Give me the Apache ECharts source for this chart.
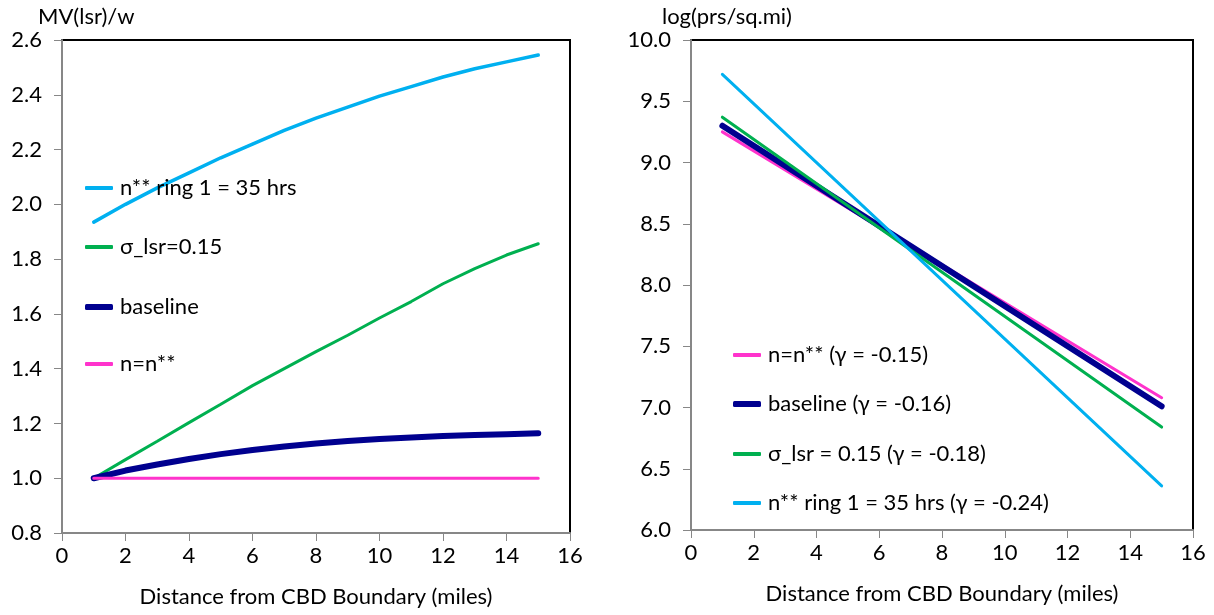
<!DOCTYPE html>
<html>
<head>
<meta charset="utf-8">
<script src="https://cdn.jsdelivr.net/npm/echarts@6/dist/echarts.min.js"></script>
<style>html,body{margin:0;padding:0;background:#fff}#c{width:1214px;height:615px}</style>
</head>
<body>
<div id="c"></div>
<script>
// ---- Left chart data: MV(lsr)/w vs distance ----
const milesLeft = [1, 2, 3, 4, 5, 6, 7, 8, 9, 10, 11, 12, 13, 14, 15];
const leftRing = [1.935, 2.000, 2.060, 2.115, 2.170, 2.220, 2.270, 2.315, 2.355, 2.395, 2.430, 2.465, 2.495, 2.520, 2.545];
const leftSigma = [1.000, 1.068, 1.135, 1.203, 1.270, 1.338, 1.400, 1.462, 1.522, 1.585, 1.645, 1.710, 1.765, 1.815, 1.856];
const leftBaseline = [1.000, 1.028, 1.050, 1.070, 1.088, 1.103, 1.116, 1.127, 1.136, 1.143, 1.149, 1.154, 1.158, 1.161, 1.164];
const leftNstar = [1.0, 1.0, 1.0, 1.0, 1.0, 1.0, 1.0, 1.0, 1.0, 1.0, 1.0, 1.0, 1.0, 1.0, 1.0];
const leftNames = ['n** ring 1 = 35 hrs', 'σ_lsr=0.15', 'baseline', 'n=n**'];

// ---- Right chart data: log(prs/sq.mi) vs distance ----
const milesRight = [1, 15];
const rightNstar = [9.25, 7.08];
const rightBaseline = [9.30, 7.01];
const rightSigma = [9.37, 6.84];
const rightRing = [9.72, 6.36];
const rightNames = ['n=n** (γ = -0.15)', 'baseline (γ = -0.16)', 'σ_lsr = 0.15 (γ = -0.18)', 'n** ring 1 = 35 hrs (γ = -0.24)'];

// tick labels
const xTicks = [0, 2, 4, 6, 8, 10, 12, 14, 16];
const leftYTicks = [0.8, 1.0, 1.2, 1.4, 1.6, 1.8, 2.0, 2.2, 2.4, 2.6];
const rightYTicks = [6.0, 6.5, 7.0, 7.5, 8.0, 8.5, 9.0, 9.5, 10.0];

const FONT = 'Lato';
const FS = 22;
const C_CYAN = '#00B0F0', C_GREEN = '#00B050', C_NAVY = '#00008F', C_PINK = '#FF33CC';

function pairs(xs, ys) { return xs.map((x, i) => [x, ys[i]]); }

function xAxisCfg(gi) {
  return {
    gridIndex: gi, type: 'value', min: xTicks[0], max: xTicks[xTicks.length - 1], interval: 2,
    name: 'Distance from CBD Boundary (miles)', nameLocation: 'middle', nameGap: 53,
    nameTextStyle: { fontFamily: FONT, fontSize: FS, color: '#000' },
    axisLine: { show: true, onZero: false, lineStyle: { color: '#878787', width: 2 } },
    axisTick: { show: true, length: 8, lineStyle: { color: '#878787', width: 1 } },
    axisLabel: { fontFamily: FONT, fontSize: FS, color: '#000', margin: 12 },
    splitLine: { show: false }
  };
}
function yAxisCfg(gi, ticks, interval, digits) {
  return {
    gridIndex: gi, type: 'value', min: ticks[0], max: ticks[ticks.length - 1], interval: interval,
    axisLine: { show: true, lineStyle: { color: '#878787', width: 2 } },
    axisTick: { show: true, length: 8, lineStyle: { color: '#878787', width: 1 } },
    axisLabel: { fontFamily: FONT, fontSize: FS, color: '#000', margin: 20,
      formatter: v => v.toFixed(digits) },
    splitLine: { show: false }
  };
}
function line(name, xi, xs, ys, color, width) {
  return {
    name: name, type: 'line', xAxisIndex: xi, yAxisIndex: xi,
    data: pairs(xs, ys), symbol: 'none', smooth: false,
    lineStyle: { color: color, width: width, cap: 'round' },
    itemStyle: { color: color }, z: 3
  };
}
function legendItem(name, left, centerY, thick) {
  return {
    data: [name], orient: 'vertical', left: left, top: centerY - 13,
    icon: 'roundRect', itemWidth: 28, itemHeight: thick, itemGap: 0,
    itemStyle: { borderWidth: 0 },
    textStyle: { fontFamily: FONT, fontSize: FS, color: '#000', lineHeight: 26, padding: [0, 0, 0, 2] },
    selectedMode: false
  };
}

const chart = echarts.init(document.getElementById('c'), null, { renderer: 'canvas' });
chart.setOption({
  animation: false,
  backgroundColor: '#fff',
  title: [
    { text: 'MV(lsr)/w', left: 33, top: 1, textStyle: { fontFamily: FONT, fontSize: FS, fontWeight: 'normal', color: '#000' } },
    { text: 'log(prs/sq.mi)', left: 657, top: 1, textStyle: { fontFamily: FONT, fontSize: FS, fontWeight: 'normal', color: '#000' } }
  ],
  grid: [
    { left: 62, top: 40, width: 508, height: 493, show: true, borderColor: '#000', borderWidth: 2, backgroundColor: 'transparent' },
    { left: 691, top: 40, width: 502, height: 490, show: true, borderColor: '#000', borderWidth: 2, backgroundColor: 'transparent' }
  ],
  xAxis: [xAxisCfg(0), xAxisCfg(1)],
  yAxis: [yAxisCfg(0, leftYTicks, 0.2, 1), yAxisCfg(1, rightYTicks, 0.5, 1)],
  legend: [
    legendItem(leftNames[0], 80, 183, 4),
    legendItem(leftNames[1], 80, 242, 4),
    legendItem(leftNames[2], 80, 302, 6),
    legendItem(leftNames[3], 80, 359, 4),
    legendItem(rightNames[0], 728, 350, 4),
    legendItem(rightNames[1], 728, 399, 6),
    legendItem(rightNames[2], 728, 449, 4),
    legendItem(rightNames[3], 728, 498, 4)
  ],
  series: [
    line(leftNames[0], 0, milesLeft, leftRing, C_CYAN, 3.5),
    line(leftNames[1], 0, milesLeft, leftSigma, C_GREEN, 3),
    line(leftNames[2], 0, milesLeft, leftBaseline, C_NAVY, 6),
    line(leftNames[3], 0, milesLeft, leftNstar, C_PINK, 3),
    line(rightNames[0], 1, milesRight, rightNstar, C_PINK, 3),
    line(rightNames[1], 1, milesRight, rightBaseline, C_NAVY, 6),
    line(rightNames[2], 1, milesRight, rightSigma, C_GREEN, 3),
    line(rightNames[3], 1, milesRight, rightRing, C_CYAN, 3)
  ]
});
</script>
</body>
</html>
